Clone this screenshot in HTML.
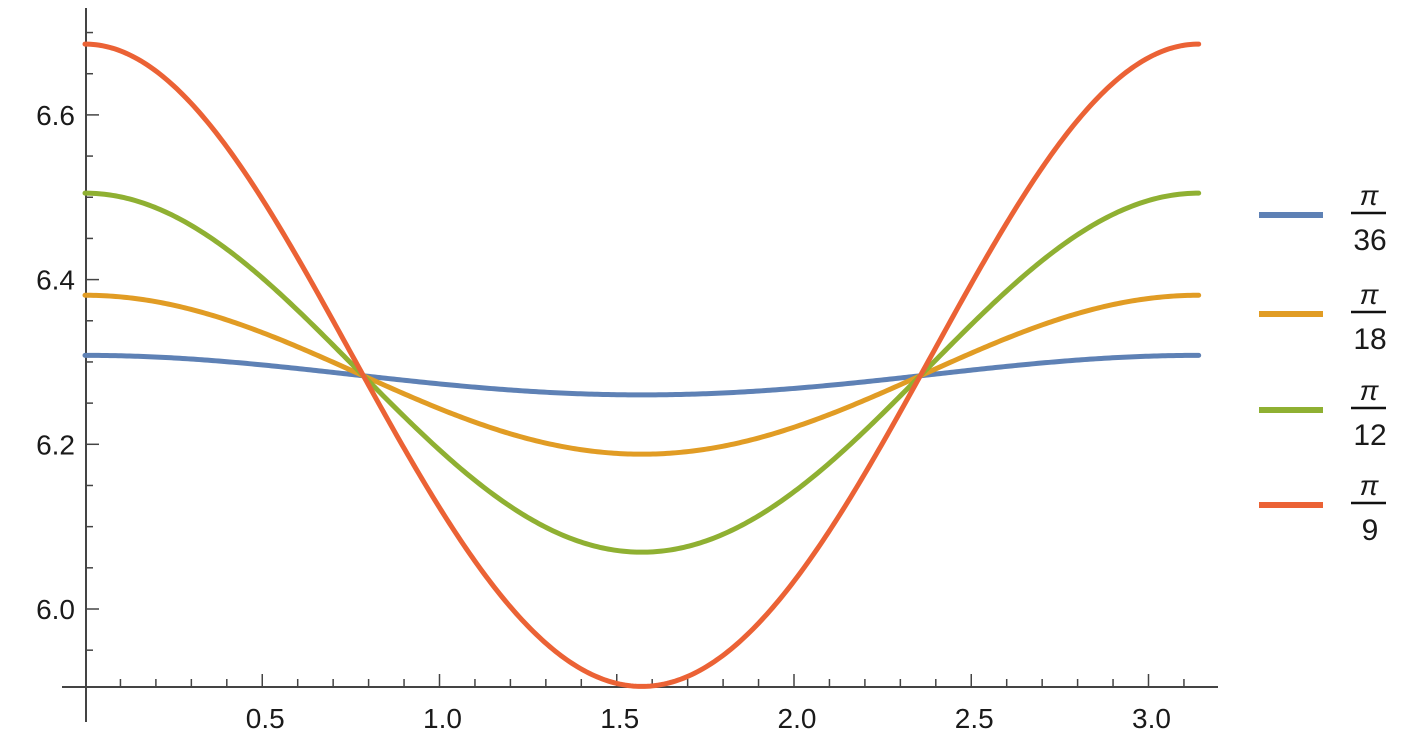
<!DOCTYPE html>
<html><head><meta charset="utf-8"><style>
body{margin:0;background:#fff;}
svg text{font-family:"Liberation Sans",sans-serif;fill:#1a1a1a;}
</style></head><body>
<svg id="s" width="1417" height="748" viewBox="0 0 1417 748" xmlns="http://www.w3.org/2000/svg">
<g id="ax" stroke="#444" stroke-width="2"></g>
<g id="cv" fill="none" stroke-width="5" stroke-linecap="round"></g>
<g id="lg"></g>
</svg>
<script>
const NS="http://www.w3.org/2000/svg";
const X=x=>85+354.5*x, Y=v=>609-(v-6)*823.5;
function el(p,t,a,txt){const e=document.createElementNS(NS,t);for(const k in a)e.setAttribute(k,a[k]);if(txt!==undefined)e.textContent=txt;p.appendChild(e);return e;}
const ax=document.getElementById('ax'),s=document.getElementById('s');
el(ax,'line',{x1:62,y1:687,x2:1218,y2:687});
el(ax,'line',{x1:86,y1:8,x2:86,y2:722});
for(let i=1;i<=31;i++){const x=X(i/10);const maj=i%5==0;el(ax,'line',{x1:x,y1:687,x2:x,y2:maj?674:679,'stroke-width':1.5});}
for(let v=5.95;v<=6.71;v+=0.05){const vv=Math.round(v*100)/100;const y=Y(vv);const maj=Math.abs(vv*5-Math.round(vv*5))<1e-6;el(ax,'line',{x1:86,y1:y,x2:maj?99:93,y2:y,'stroke-width':1.5});}
[[0.5,'0.5'],[1,'1.0'],[1.5,'1.5'],[2,'2.0'],[2.5,'2.5'],[3,'3.0']].forEach(([x,t])=>el(s,'text',{x:X(x)+3,y:728,'text-anchor':'middle','font-size':28},t));
[[6.0,'6.0'],[6.2,'6.2'],[6.4,'6.4'],[6.6,'6.6']].forEach(([v,t])=>el(s,'text',{x:75,y:Y(v)+10,'text-anchor':'end','font-size':28},t));
const cv=document.getElementById('cv');
const ser=[[36,'#5E81B5',6.308,6.260],[18,'#E19C24',6.381,6.188],[12,'#8FB032',6.505,6.069],[9,'#EB6235',6.686,5.906]];
ser.forEach(([n,c,mx,mn])=>{const a=(mx-mn)/2,cb=(mx+mn)/2,cm=6.2832;const cc=(cb+cm)/2,b=(cb-cm)/2;let d='';for(let i=0;i<=400;i++){const x=Math.PI*i/400;const v=cc+a*Math.cos(2*x)+b*Math.cos(4*x);d+=(i?'L':'M')+X(x).toFixed(2)+','+Y(v).toFixed(2);}el(cv,'path',{d:d,stroke:c});});
const lg=document.getElementById('lg');
const ly=[215,314,410,505];
ser.forEach(([n,c],i)=>{const y=ly[i];el(lg,'line',{x1:1259,y1:y,x2:1323,y2:y,stroke:c,'stroke-width':6});
el(lg,'text',{x:1369,y:y-10,'text-anchor':'middle','font-size':28,'font-style':'italic'},'π');
el(lg,'line',{x1:1351,y1:y-2,x2:1386,y2:y-2,stroke:'#111','stroke-width':2.5});
el(lg,'text',{x:1370,y:y+35,'text-anchor':'middle','font-size':30},String(n));});
</script>
</body></html>
